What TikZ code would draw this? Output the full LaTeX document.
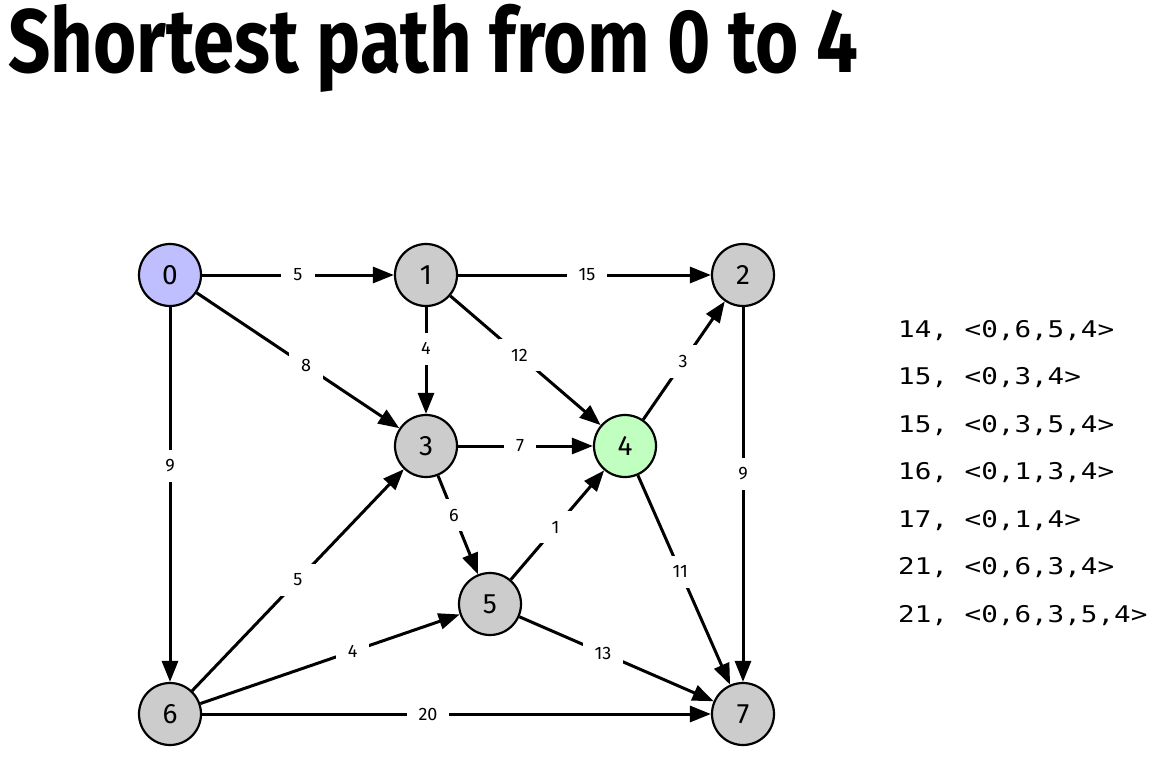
\documentclass[tikz,border=0pt]{standalone}
\usepackage{fontspec}
\usepackage{graphicx}
\usetikzlibrary{arrows.meta}
\setmainfont{Fira Sans}
\newfontfamily\monofont{DejaVu Sans Mono}
\IfFontExistsTF{Fira Sans Heavy}{\newfontfamily\titlefont{Fira Sans Heavy}}{\newfontfamily\titlefont{Fira Sans}[UprightFont={* Bold}]}
\definecolor{ngray}{HTML}{CCCCCC}
\definecolor{nblue}{HTML}{BFBFFF}
\definecolor{ngreen}{HTML}{C0FFC0}
\tikzset{
  vert/.style={circle,draw=black,line width=2.2pt,fill=ngray,minimum size=62pt,inner sep=0pt,font=\fontsize{28}{28}\selectfont},
  edge/.style={line width=3pt,-{Triangle[length=21pt,width=16pt]}},
  lbl/.style={fill=white,inner xsep=12pt,inner ysep=10pt,font=\fontsize{18}{18}\selectfont},
  listline/.style={anchor=base west,inner sep=0pt,font=\monofont\fontsize{23}{23}\selectfont}
}
\begin{document}
\begin{tikzpicture}[x=1pt,y=-1pt]
\useasboundingbox (0,0) rectangle (1168,776);
\node[anchor=base west,inner sep=0pt] (title) at (8,72) {\resizebox{850pt}{\height}{\titlefont\fontsize{90}{90}\selectfont Shortest path from 0 to 4}};

\node[vert,fill=nblue] (n0) at (170,275) {0};
\node[vert] (n1) at (426,275) {1};
\node[vert] (n2) at (743,275) {2};
\node[vert] (n3) at (426,446) {3};
\node[vert,fill=ngreen] (n4) at (625,446) {4};
\node[vert] (n5) at (490,604) {5};
\node[vert] (n6) at (170,714) {6};
\node[vert] (n7) at (743,714) {7};

\draw[edge] (n0) -- node[lbl,pos=.5]{5} (n1);
\draw[edge] (n1) -- node[lbl,pos=.51]{15} (n2);
\draw[edge] (n0) -- node[lbl,pos=.54]{8} (n3);
\draw[edge] (n1) -- node[lbl,pos=.39]{4} (n3);
\draw[edge] (n1) -- node[lbl,pos=.46]{12} (n4);
\draw[edge] (n4) -- node[lbl,pos=.49]{3} (n2);
\draw[edge] (n0) -- node[lbl,pos=.424]{9} (n6);
\draw[edge] (n2) -- node[lbl,pos=.445]{9} (n7);
\draw[edge] (n3) -- node[lbl,pos=.46]{7} (n4);
\draw[edge] (n3) -- node[lbl,pos=.40]{6} (n5);
\draw[edge] (n5) -- node[lbl,pos=.48]{1} (n4);
\draw[edge] (n4) -- node[lbl,pos=.46]{11} (n7);
\draw[edge] (n6) -- node[lbl,pos=.5]{5} (n3);
\draw[edge] (n6) -- node[lbl,pos=.587]{4} (n5);
\draw[edge] (n5) -- node[lbl,pos=.43]{13} (n7);
\draw[edge] (n6) -- node[lbl,pos=.444]{20} (n7);

\node[listline] (l1) at (898,337) {\scalebox{1.2}[1]{14, <0,6,5,4>}};
\node[listline] (l2) at (898,384.5) {\scalebox{1.2}[1]{15, <0,3,4>}};
\node[listline] (l3) at (898,432) {\scalebox{1.2}[1]{15, <0,3,5,4>}};
\node[listline] (l4) at (898,479.5) {\scalebox{1.2}[1]{16, <0,1,3,4>}};
\node[listline] (l5) at (898,527) {\scalebox{1.2}[1]{17, <0,1,4>}};
\node[listline] (l6) at (898,574.5) {\scalebox{1.2}[1]{21, <0,6,3,4>}};
\node[listline] (l7) at (898,622) {\scalebox{1.2}[1]{21, <0,6,3,5,4>}};
\end{tikzpicture}
\end{document}
